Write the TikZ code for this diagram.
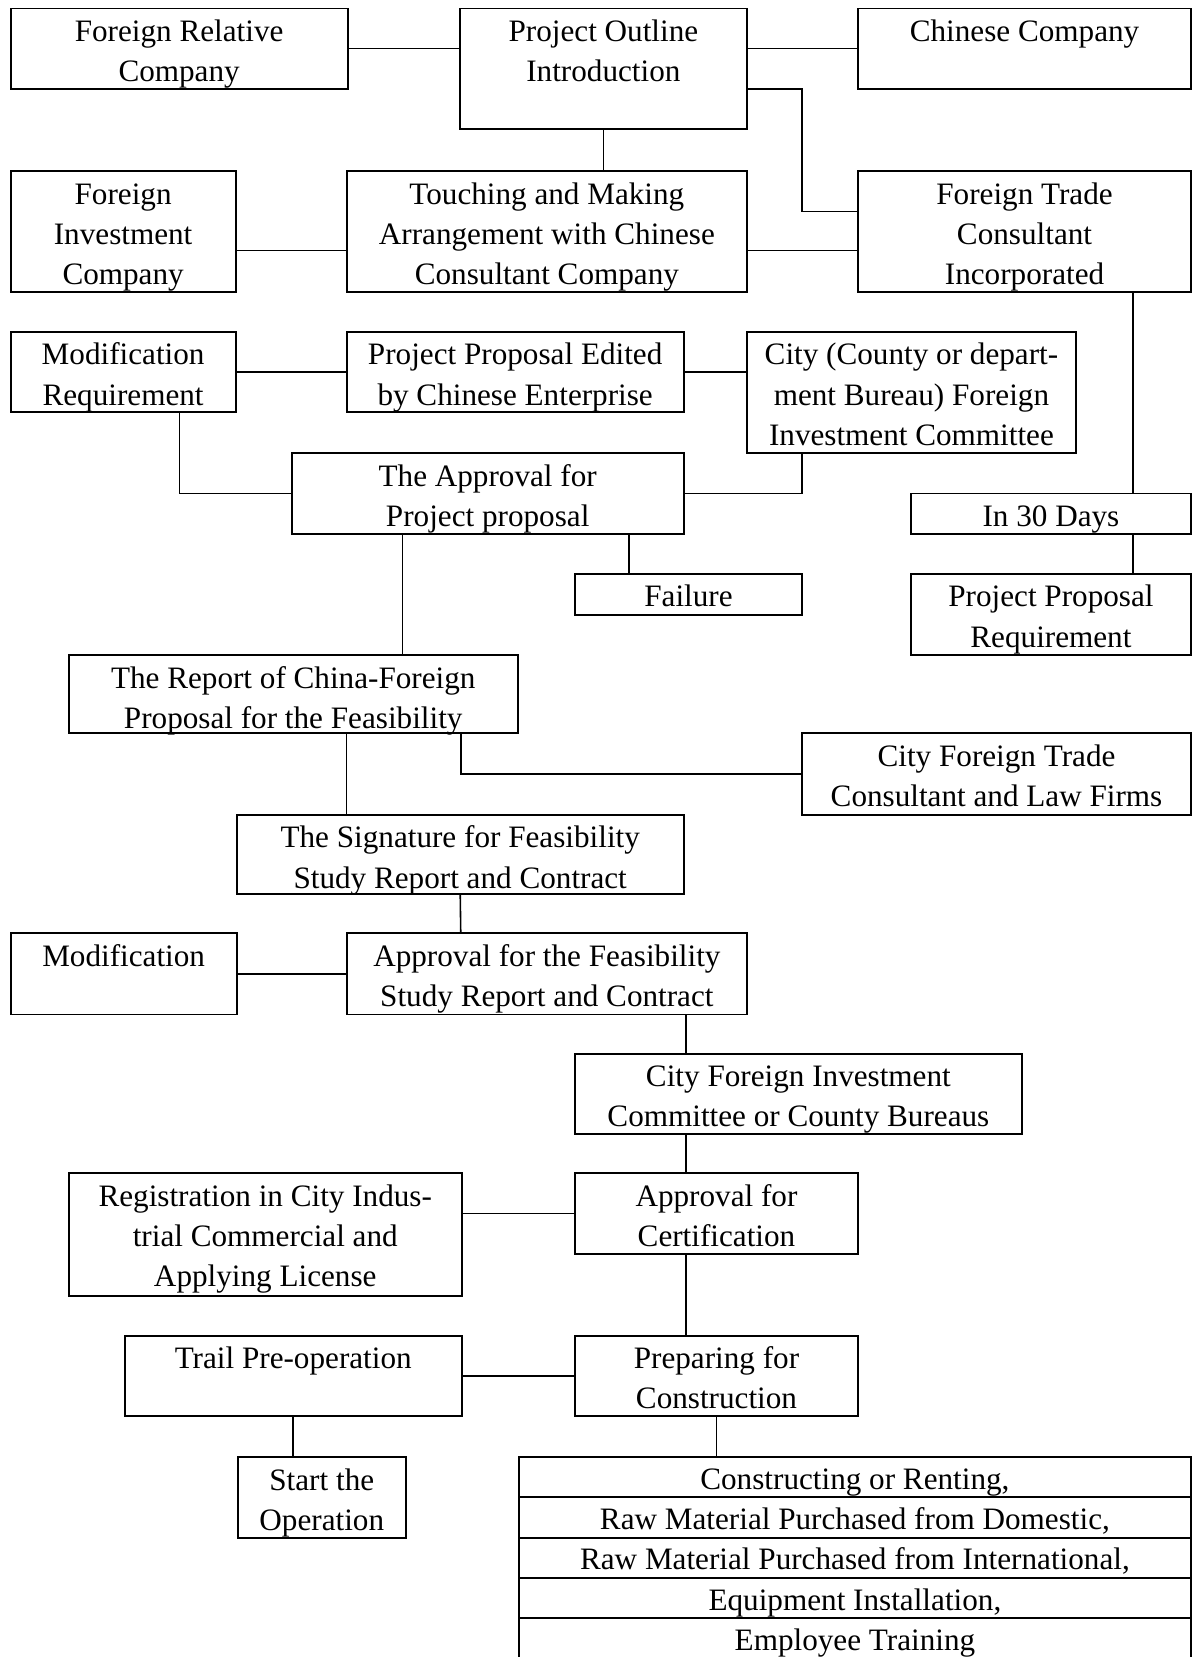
\documentclass[tikz,border=0pt]{standalone}
\usepackage{fontspec}
\setmainfont{Liberation Serif}
\tikzset{
  box/.style={draw, line width=1.8pt, anchor=north west, inner sep=0pt, outer sep=0pt},
  txt/.style={anchor=north, align=center, inner xsep=2.5pt, inner ysep=4.5pt, font=\fontsize{29.5}{38}\selectfont},
  rowbox/.style={box, minimum width=636pt, minimum height=38pt, font=\fontsize{29.5}{38}\selectfont, text height=30.6pt, text depth=7.4pt},
  link/.style={line width=1.5pt},
}
\begin{document}
\begin{tikzpicture}[x=1pt, y=-1pt]
    \useasboundingbox (0,0) rectangle (1134,1568);

    \node[box, minimum width=319pt, minimum height=76pt] (frc) at (10,8) {};
    \node[txt] at (frc.north) {\strut Foreign Relative\\Company};
    \node[box, minimum width=272pt, minimum height=114pt] (poi) at (435,8) {};
    \node[txt] at (poi.north) {\strut Project Outline\\Introduction};
    \node[box, minimum width=315pt, minimum height=76pt] (cc) at (812,8) {};
    \node[txt] at (cc.north) {\strut Chinese Company};

    \node[box, minimum width=213pt, minimum height=114pt] (fic) at (10,162) {};
    \node[txt] at (fic.north) {\strut Foreign\\Investment\\Company};
    \node[box, minimum width=379pt, minimum height=114pt] (touch) at (328,162) {};
    \node[txt] at (touch.north) {\strut Touching and Making\\Arrangement with Chinese\\Consultant Company};
    \node[box, minimum width=315pt, minimum height=114pt] (ftc) at (812,162) {};
    \node[txt] at (ftc.north) {\strut Foreign Trade\\Consultant\\Incorporated};

    \node[box, minimum width=213pt, minimum height=76pt] (modreq) at (10,314) {};
    \node[txt] at (modreq.north) {\strut Modification\\Requirement};
    \node[box, minimum width=319pt, minimum height=76pt] (ppe) at (328,314) {};
    \node[txt] at (ppe.north) {\strut Project Proposal Edited\\by Chinese Enterprise};
    \node[box, minimum width=311pt, minimum height=115pt] (city) at (707,314) {};
    \node[txt] at (city.north) {\strut City (County or depart-\\ment Bureau) Foreign\\Investment Committee};

    \node[box, minimum width=371pt, minimum height=76pt] (appr) at (276,429) {};
    \node[txt] at (appr.north) {\strut The Approval for\\Project proposal};
    \node[box, minimum width=265pt, minimum height=38pt] (days) at (862,467) {};
    \node[txt] at (days.north) {\strut In 30 Days};
    \node[box, minimum width=215pt, minimum height=39pt] (fail) at (544,543) {};
    \node[txt] at (fail.north) {\strut Failure};
    \node[box, minimum width=265pt, minimum height=77pt] (ppr) at (862,543) {};
    \node[txt] at (ppr.north) {\strut Project Proposal\\Requirement};

    \node[box, minimum width=425pt, minimum height=74pt] (report) at (65,620) {};
    \node[txt] at (report.north) {\strut The Report of China-Foreign\\Proposal for the Feasibility};
    \node[box, minimum width=368pt, minimum height=77pt] (cft) at (759,694) {};
    \node[txt] at (cft.north) {\strut City Foreign Trade\\Consultant and Law Firms};
    \node[box, minimum width=423pt, minimum height=75pt] (sig) at (224,771) {};
    \node[txt] at (sig.north) {\strut The Signature for Feasibility\\Study Report and Contract};

    \node[box, minimum width=214pt, minimum height=77pt] (mod) at (10,883) {};
    \node[txt] at (mod.north) {\strut Modification};
    \node[box, minimum width=379pt, minimum height=77pt] (afs) at (328,883) {};
    \node[txt] at (afs.north) {\strut Approval for the Feasibility\\Study Report and Contract};
    \node[box, minimum width=423pt, minimum height=76pt] (cfic) at (544,997) {};
    \node[txt] at (cfic.north) {\strut City Foreign Investment\\Committee or County Bureaus};

    \node[box, minimum width=372pt, minimum height=116pt] (reg) at (65,1110) {};
    \node[txt] at (reg.north) {\strut Registration in City Indus-\\trial Commercial and\\Applying License};
    \node[box, minimum width=268pt, minimum height=77pt] (cert) at (544,1110) {};
    \node[txt] at (cert.north) {\strut Approval for\\Certification};
    \node[box, minimum width=319pt, minimum height=76pt] (trail) at (118,1264) {};
    \node[txt] at (trail.north) {\strut Trail Pre-operation};
    \node[box, minimum width=268pt, minimum height=76pt] (prep) at (544,1264) {};
    \node[txt] at (prep.north) {\strut Preparing for\\Construction};
    \node[box, minimum width=159pt, minimum height=76pt] (start) at (225,1379) {};
    \node[txt] at (start.north) {\strut Start the\\Operation};

    \node[rowbox] (row1) at (491,1379) {Constructing or Renting,};
    \node[rowbox] (row2) at (491,1417) {Raw Material Purchased from Domestic,};
    \node[rowbox] (row3) at (491,1455) {Raw Material Purchased from International,};
    \node[rowbox] (row4) at (491,1493) {Equipment Installation,};
    \node[rowbox, minimum height=50pt, text depth=19.4pt] (row5) at (491,1531) {Employee Training};

    \draw[link] (frc.east) -- (frc.east -| poi.west);
    \draw[link] (cc.west -| poi.east) -- (cc.west);
    \draw[link] (poi.south) -- (poi.south |- touch.north);
    \draw[link] ([yshift=-19pt]poi.east) -- ++(52,0) |- ([yshift=19pt]ftc.west);
    \draw[link] ([yshift=-18pt]fic.east) -- ([yshift=-18pt]touch.west);
    \draw[link] ([yshift=-18pt]touch.east) -- ([yshift=-18pt]ftc.west);
    \draw[link] ([xshift=102.5pt]ftc.south) -- ([xshift=77.5pt]days.north);
    \draw[link] ([xshift=77.5pt]days.south) -- ([xshift=77.5pt]ppr.north);

    \draw[link] (modreq.east) -- (modreq.east -| ppe.west);
    \draw[link] (ppe.east) -- (ppe.east -| city.west);
    \draw[link] ([xshift=53.5pt]modreq.south) |- (appr.west);
    \draw[link] ([xshift=-103.5pt]city.south) |- (appr.east);
    \draw[link] ([xshift=133.5pt]appr.south) -- ([xshift=-56.5pt]fail.north);
    \draw[link] ([xshift=-80.5pt]appr.south) -- ([xshift=103.5pt]report.north);

    \draw[link] ([xshift=50.5pt]report.south) -- ([xshift=-107.5pt]sig.north);
    \draw[link] ([xshift=158.5pt]report.south) |- (cft.west);
    \draw[link] (sig.south) -- ([xshift=-81.5pt]afs.north);
    \draw[link] (mod.east) -- (afs.west);
    \draw[link] ([xshift=131.5pt]afs.south) -- ([xshift=-106.5pt]cfic.north);
    \draw[link] ([xshift=-106.5pt]cfic.south) -- ([xshift=-29pt]cert.north);

    \draw[link] (cert.west -| reg.east) -- (cert.west);
    \draw[link] ([xshift=-29pt]cert.south) -- ([xshift=-29pt]prep.north);
    \draw[link] (trail.east) -- (prep.west);
    \draw[link] (trail.south) -- ([xshift=-27pt]start.north);
    \draw[link] (prep.south) -- ([xshift=-131pt]row1.north);
\end{tikzpicture}
\end{document}
